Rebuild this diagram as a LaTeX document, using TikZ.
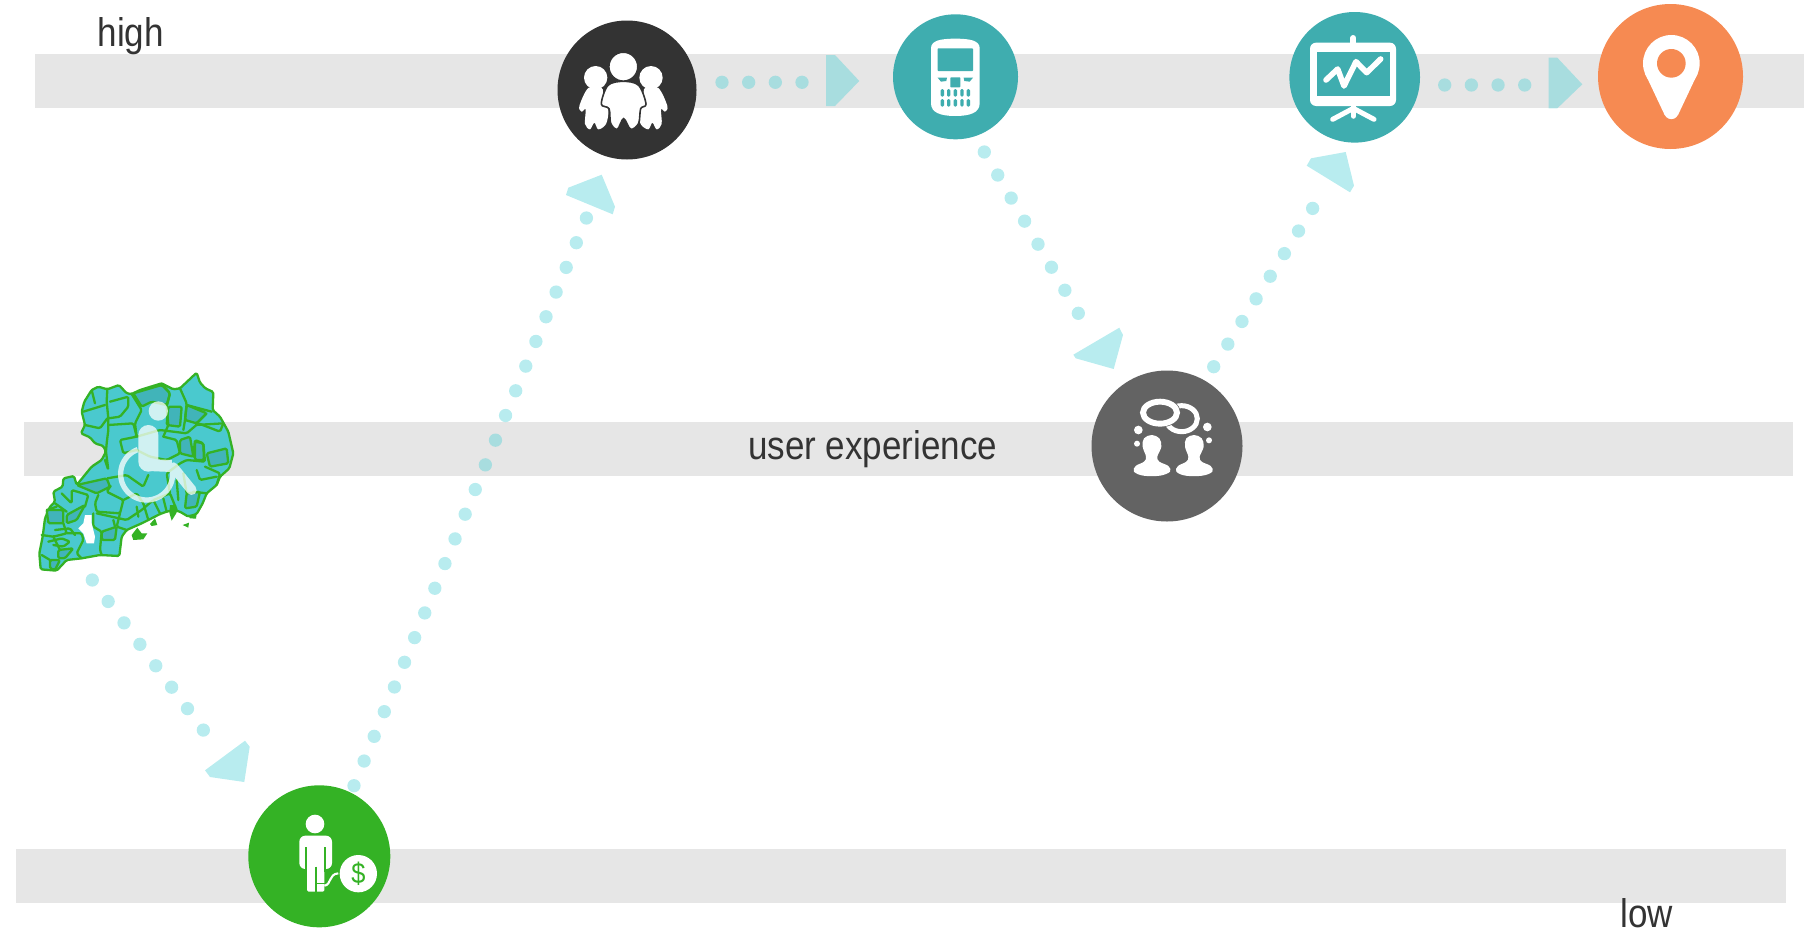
\documentclass[tikz,border=0pt]{standalone}
\usepackage{fontspec}
\setmainfont[FakeStretch=0.875]{Liberation Sans}
\definecolor{bandc}{HTML}{E6E6E6}
\definecolor{inkc}{HTML}{333333}
\definecolor{darkc}{HTML}{333333}
\definecolor{tealc}{HTML}{3FADAF}
\definecolor{orangec}{HTML}{F68A52}
\definecolor{grayc}{HTML}{636363}
\definecolor{greenc}{HTML}{34B225}
\definecolor{flowc}{HTML}{4DD0D6}
\definecolor{mapc}{HTML}{4AC9CE}
\definecolor{mapd}{HTML}{41B4B9}
\tikzset{
  band/.style={fill=bandc,draw=none},
  flow/.style={draw=flowc,draw opacity=.4,line width=13.3pt,line cap=round,dash pattern=on 0pt off 26.67pt},
  head/.style={fill=flowc,fill opacity=.4,draw=none},
  disc/.style={circle,draw=none,inner sep=0pt,minimum size=#1*2pt},
  lbl/.style={anchor=base west,inner sep=0pt,text=inkc,font=\fontsize{40}{40}\selectfont},
  ico/.style={fill=white,draw=none},
  boundary/.style={draw=greenc,line width=2.3pt,line join=round,line cap=round,rounded corners=1.5pt},
}
\begin{document}
\begin{tikzpicture}[x=1pt,y=-1pt]
\useasboundingbox (0,0) rectangle (1814,932);
% bands
\fill[band] (35,54) rectangle (1804,108);
\fill[band] (24,422) rectangle (1793,476);
\fill[band] (16,849) rectangle (1786,903);
% labels
\node[lbl] (high) at (97.5,46.7) {high};
\node[lbl] (ux) at (748,459) {user experience};
\node[lbl] (low) at (1620.5,927) {low};
% map
\begin{scope}[shift={(20,360)},scale=1/3]
\filldraw[boundary,fill=mapc] (530,38)--(540,68)--(556,85)--(580,96)--(578,150)--(600,170)--(625,215)--(640,280)--(628,325)--(600,350)--(590,375)--(560,400)--(548,430)--(530,462)--(505,470)--(480,455)--(460,450)--(440,455)--(420,462)--(395,475)--(365,490)--(320,510)--(305,530)--(298,588)--(240,585)--(185,595)--(140,600)--(110,632)--(62,628)--(58,580)--(68,530)--(75,475)--(90,440)--(105,425)--(100,395)--(128,380)--(130,355)--(162,348)--(170,375)--(215,320)--(245,300)--(258,275)--(250,258)--(225,250)--(210,232)--(183,220)--(195,195)--(185,155)--(193,125)--(215,90)--(235,80)--(262,88)--(297,75)--(320,100)--(335,102)--(360,90)--(425,70)--(460,88)--(480,85)--cycle;
\filldraw[boundary,fill=mapd] (340,100)--(425,75)--(450,100)--(440,135)--(395,125)--(365,140)--cycle;
\filldraw[boundary,fill=mapd] (445,140)--(485,140)--(480,200)--(440,195)--cycle;
\filldraw[boundary,fill=mapd] (500,135)--(560,160)--(530,190)--(495,180)--cycle;
\filldraw[boundary,fill=mapd] (560,280)--(620,265)--(625,310)--(570,320)--cycle;
\filldraw[boundary,fill=mapd] (525,245)--(550,250)--(552,300)--(525,300)--cycle;
\filldraw[boundary,fill=mapd] (480,240)--(510,230)--(520,290)--(480,280)--cycle;
\filldraw[boundary,fill=mapd] (170,375)--(260,355)--(270,380)--(230,400)--cycle;
\filldraw[boundary,fill=mapd] (80,450)--(130,450)--(130,490)--(85,490)--cycle;
\filldraw[boundary,fill=mapd] (140,465)--(195,435)--(170,480)--(140,490)--cycle;
\filldraw[boundary,fill=mapd] (115,570)--(160,565)--(135,595)--(115,595)--cycle;
\filldraw[boundary,fill=mapd] (90,600)--(120,600)--(105,630)--(90,625)--cycle;
\filldraw[boundary,fill=mapd] (245,515)--(290,500)--(285,540)--(245,540)--cycle;
\filldraw[boundary,fill=mapd] (500,400)--(540,395)--(530,440)--(495,445)--cycle;
\draw[boundary] (480,85)--(500,130)--(495,180)--(490,210);
\draw[boundary] (335,102)--(365,150)--(345,190)--(350,230);
\draw[boundary] (425,70)--(450,100)--(440,140)--(445,195)--(430,230);
\draw[boundary] (500,135)--(575,155);
\draw[boundary] (560,160)--(525,195)--(610,190);
\draw[boundary] (262,88)--(260,125)--(265,175)--(265,210)--(260,250)--(258,275);
\draw[boundary] (190,155)--(255,135);
\draw[boundary] (195,195)--(240,205)--(262,175);
\draw[boundary] (270,125)--(325,110)--(325,140)--(300,170)--(265,175);
\draw[boundary] (265,195)--(340,190)--(350,230)--(300,240)--(310,280)--(350,270);
\draw[boundary] (215,90)--(225,130);
\draw[boundary] (258,275)--(265,330)--(255,300);
\draw[boundary] (262,355)--(320,345)--(370,380)--(385,345);
\draw[boundary] (272,378)--(260,395)--(310,420)--(300,460)--(230,455)--(225,430)--(235,405);
\draw[boundary] (125,400)--(155,430)--(155,390)--(205,405)--(195,440);
\draw[boundary] (105,430)--(140,455);
\draw[boundary] (80,450)--(110,440);
\draw[boundary] (130,490)--(140,520)--(100,530)--(65,525);
\draw[boundary] (140,520)--(185,520)--(190,540)--(170,580)--(185,595);
\draw[boundary] (100,530)--(120,570);
\draw[boundary] (85,545)--(125,535)--(150,545)--(130,560)--(100,555);
\draw[boundary] (105,510)--(150,505)--(165,525);
\draw[boundary] (65,585)--(90,600);
\draw[boundary] (220,460)--(220,500)--(245,515)--(240,570)--(245,585);
\draw[boundary] (300,460)--(290,500)--(320,510);
\draw[boundary] (230,460)--(320,480)--(365,450)--(400,420)--(420,460);
\draw[boundary] (280,480)--(285,500);
\draw[boundary] (310,420)--(350,400)--(370,430)--(385,480);
\draw[boundary] (400,420)--(450,400)--(470,450);
\draw[boundary] (350,440)--(355,470);
\draw[boundary] (430,415)--(440,455);
\draw[boundary] (450,400)--(440,340)--(480,310)--(500,300)--(555,305)--(550,250)--(525,240)--(520,290);
\draw[boundary] (350,230)--(420,210)--(500,220)--(535,190)--(600,215)--(610,190);
\draw[boundary] (430,230)--(470,240)--(480,280)--(440,300)--(390,290)--(350,270);
\draw[boundary] (555,320)--(600,340)--(590,375);
\draw[boundary] (530,330)--(540,360)--(590,350);
\draw[boundary] (520,395)--(560,400);
\draw[boundary] (470,360)--(475,420);
\draw[boundary] (490,340)--(500,400);
% lake
\fill[white] (195,465)--(215,465)--(215,490)--(225,530)--(222,550)--(200,550)--(190,520)--(175,505)--(190,490)--cycle;
% islands
\fill[greenc] (335,525)--(352,503)--(365,520)--(382,520)--(370,538)--(340,540)--cycle;
\fill[greenc] (390,492)--(405,475)--(412,495)--(395,498)--cycle;
\fill[greenc] (488,495)--(507,488)--(505,503)--cycle;
\fill[greenc] (450,435)--(468,435)--(470,458)--(455,482)--(448,458)--cycle;
\fill[greenc] (505,465)--(530,462)--(528,476)--(510,475)--cycle;
% wheelchair
\begin{scope}[transparency group,opacity=.74]
\fill[white] (415,153) circle[radius=29];
\draw[white,line width=10pt,line cap=round,line join=round] (460,322)--(515,390);
\draw[white,line width=20pt,line cap=round,line join=round] (385,225)--(385,305);
\draw[white,line width=12pt,line join=round] (385,315)--(455,318);
\draw[white,line width=5.3pt] plot[domain=-5:250,samples=60] ({380+78*cos(\x)},{342+78*sin(\x)});
\end{scope}
\end{scope}
% connector ends
\coordinate (m1) at (92.3,580);      \coordinate (m2) at (203.6,730.4);
\coordinate (g1) at (354,785.7);     \coordinate (g2) at (586.6,217.6);
\coordinate (p1) at (984.3,152);     \coordinate (p2) at (1078.6,313.8);
\coordinate (u1) at (1213.7,366.7);  \coordinate (u2) at (1313,207.8);
\coordinate (f1) at (722,82.3);      \coordinate (f2) at (802.5,82.3);
\coordinate (d1) at (1444.7,85);     \coordinate (d2) at (1525.2,85);
\draw[flow] (m1) -- (m2);
\draw[flow] (g1) -- (g2);
\draw[flow] (p1) -- (p2);
\draw[flow] (u1) -- (u2);
\draw[flow] (f1) -- (f2);
\draw[flow] (d1) -- (d2);
% arrowheads
\fill[head] (245,740.7)--(249.7,746.7)--(244.3,782)--(210,777)--(205,770.3)--cycle;
\fill[head] (601.7,174.7)--(615,206.7)--(612.7,214.3)--(566,195)--(568.3,187.7)--cycle;
\fill[head] (1119.3,327.7)--(1123,335)--(1113.7,369)--(1075.7,358.3)--(1073.3,354.7)--cycle;
\fill[head] (1345.7,152)--(1354,185.7)--(1350,192.3)--(1306.7,165.7)--(1311,158.3)--cycle;
\fill[head] (826,55)--(835,55)--(859.3,81)--(835,106)--(826,106)--cycle;
\fill[head] (1548.7,57.7)--(1557.3,57.7)--(1582.3,84.3)--(1557.3,108.3)--(1548.7,108.3)--cycle;
% discs
\node[disc=69.5,fill=darkc] (family) at (627,90) {};
\node[disc=62.5,fill=tealc] (phone) at (955.5,76.8) {};
\node[disc=65.3,fill=tealc] (board) at (1354.7,77.3) {};
\node[disc=72.5,fill=orangec] (pin) at (1670.5,76.5) {};
\node[disc=75.5,fill=grayc] (talk) at (1167,446) {};
\node[disc=71,fill=greenc] (debt) at (319.3,856.3) {};
% family icon
\begin{scope}[shift={(540,0)},scale=1/3]
\fill[white] plot[smooth cycle,tension=.55] coordinates {(145,264)(118,318)(125,335)(137,328)(135,372)(150,388)(163,368)(175,388)(198,372)(205,330)(190,290)(185,264)};
\fill[white] plot[smooth cycle,tension=.55] coordinates {(355,264)(382,318)(375,335)(363,328)(365,372)(350,388)(337,368)(325,388)(302,372)(295,330)(310,290)(315,264)};
\fill[white] (167,233) circle[radius=35];
\fill[white] (333,233) circle[radius=35];
\filldraw[white,draw=darkc,line width=1.6pt] plot[smooth cycle,tension=.55] coordinates {(250,244)(296,256)(318,312)(302,326)(296,370)(272,388)(251,356)(232,388)(212,370)(207,326)(184,312)(204,256)};
\filldraw[white,draw=darkc,line width=1.3pt] (250,200) circle[radius=43];
\end{scope}
% phone icon
\begin{scope}[shift={(540,0)},scale=1/3]
\fill[white] (1173,145) .. controls (1173,122) and (1200,116) .. (1246,116) .. controls (1292,116) and (1319,122) .. (1319,145) -- (1319,310) .. controls (1319,338) and (1290,348) .. (1246,348) .. controls (1202,348) and (1173,338) .. (1173,310) -- cycle;
\fill[tealc,rounded corners=.7pt] (1193,145) rectangle (1299,213);
\fill[tealc,rounded corners=.7pt] (1231,232) rectangle (1261,262);
\fill[tealc] (1193,233)--(1221,233)--(1219,243)--(1203,245)--cycle;
\fill[tealc] (1299,233)--(1271,233)--(1273,243)--(1289,245)--cycle;
\foreach \kx in {1207,1226,1246,1266,1285}{
  \fill[tealc,rounded corners=1.4pt] ({\kx-5},267) rectangle ({\kx+5},290);
  \fill[tealc,rounded corners=1.4pt] ({\kx-5},297) rectangle ({\kx+5},320);
}
\end{scope}
% board icon
\begin{scope}[shift={(1270,0)},scale=1/3]
\fill[white,rounded corners=6pt] (120,128) rectangle (378,318);
\fill[tealc] (140,157) rectangle (360,288);
\draw[white,line width=6pt,line cap=round] (250,114)--(250,130);
\draw[white,line width=5.6pt,line cap=round,line join=round] (168,240)--(203,207)--(222,258)--(258,185)--(290,218)--(332,177);
\draw[white,line width=5.5pt,line cap=round] (250,320)--(250,348);
\draw[white,line width=5pt,line cap=round] (250,325)--(188,358);
\draw[white,line width=5pt,line cap=round] (250,325)--(312,358);
\end{scope}
% pin icon
\begin{scope}[shift={(1270,0)},scale=1/3]
\fill[white] (1204,190) circle[radius=85];
\fill[white] (1125,220)--(1184,345)--(1224,345)--(1283,220)--cycle;
\fill[white] (1204,336) circle[radius=21.5];
\fill[orangec] (1204,190) circle[radius=43];
\end{scope}
% talk icon
\begin{scope}[shift={(1070,340)},scale=1/3]
\draw[white,line width=5pt] (335,236) ellipse[x radius=47,y radius=39];
\filldraw[fill=grayc,draw=grayc,line width=7.2pt] (270,218) ellipse[x radius=51,y radius=33];
\draw[white,line width=5.9pt] (270,218) ellipse[x radius=51,y radius=33];
\fill[white] (205,270) circle[radius=13];
\fill[white] (201,311) circle[radius=9];
\fill[white] (412,261) circle[radius=13];
\fill[white] (417,301) circle[radius=9];
\foreach \px in {0,127}{
  \begin{scope}[shift={(\px,0)}]
  \fill[white] plot[smooth cycle,tension=.6] coordinates {(245,285)(268,295)(274,320)(262,350)(268,365)(295,378)(300,395)(270,407)(220,407)(192,395)(197,378)(222,365)(228,350)(218,320)(222,295)};
  \end{scope}
}
\end{scope}
% debt icon
\begin{scope}[shift={(230,770)},scale=1/3]
\fill[white] (255,162) circle[radius=28];
\fill[white,rounded corners=6pt] (208,297)--(208,197)--(306,197)--(306,297)--cycle;
\fill[white,rounded corners=1.5pt] (231,280)--(283,280)--(283,365)--(231,365)--cycle;
\draw[greenc,line width=1.7pt] (228.5,232)--(228.5,305);
\draw[greenc,line width=1.7pt] (285.5,232)--(285.5,305);
\draw[greenc,line width=1.7pt] (257.5,290)--(257.5,365);
\draw[greenc,line width=1.4pt] (258,340)--(284,340);
\draw[white,line width=2.1pt] (283,347) .. controls (305,345) and (295,312) .. (325,310);
\fill[white] (385,311) circle[radius=56];
\node[text=greenc,inner sep=0pt,font=\fontsize{29}{29}\selectfont] (dollar) at (385,311) {\$};
\end{scope}
\end{tikzpicture}
\end{document}
